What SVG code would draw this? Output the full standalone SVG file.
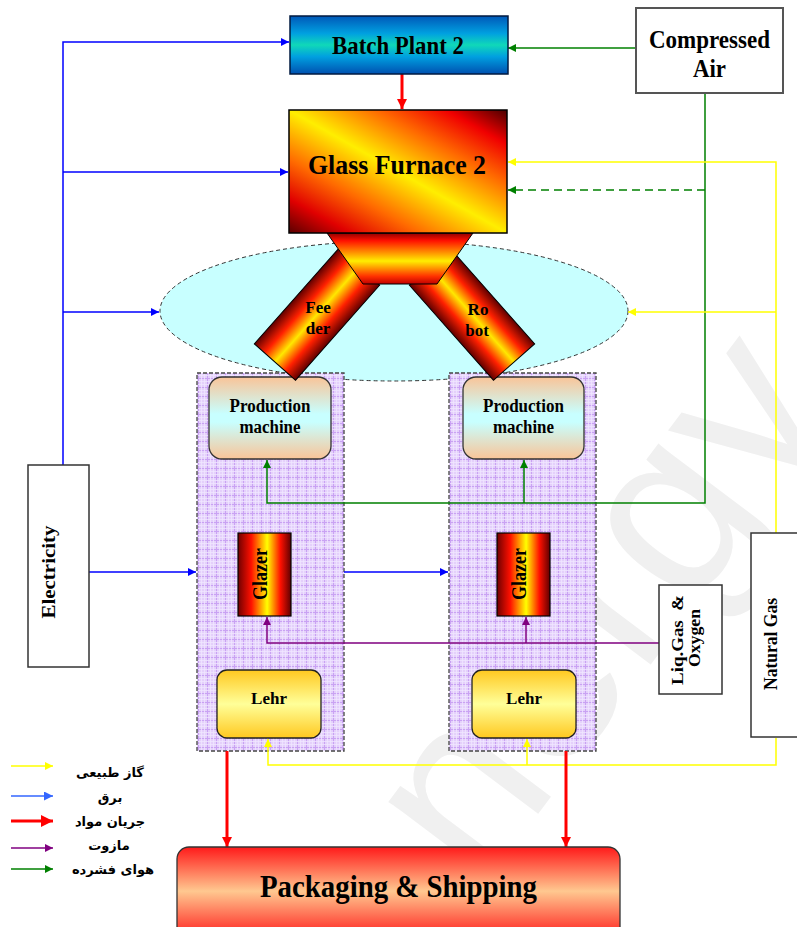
<svg xmlns="http://www.w3.org/2000/svg" width="797" height="927" viewBox="0 0 797 927">
  <defs>
    <style>
      .lbl{font-family:"Liberation Serif","Times New Roman",serif;font-weight:bold;fill:#000;text-anchor:middle}
      .fa{font-family:"DejaVu Sans","Noto Sans",sans-serif;font-weight:bold;font-size:13px;fill:#000;text-anchor:middle}
      .c{fill:none;stroke-width:1.5}
      .blue{stroke:#0000ff}
      .green{stroke:#008000}
      .yellow{stroke:#ffff00}
      .purple{stroke:#800080}
      .red{stroke:#ff0000;stroke-width:3}
      .box{fill:#fff;stroke:#333;stroke-width:1.5}
      .zone{fill:url(#grid);stroke:#444;stroke-width:1.3;stroke-dasharray:4 2}
    </style>

    <!-- fills -->
    <linearGradient id="gBatch" x1="0" y1="0" x2="0" y2="1">
      <stop offset="0" stop-color="#0058b8"/>
      <stop offset="0.3" stop-color="#00a0e0"/>
      <stop offset="0.5" stop-color="#10d8b8"/>
      <stop offset="0.7" stop-color="#00a0e0"/>
      <stop offset="1" stop-color="#0050b0"/>
    </linearGradient>
    <linearGradient id="gFurnace" x1="0" y1="1" x2="1" y2="0">
      <stop offset="0" stop-color="#5a0000"/>
      <stop offset="0.14" stop-color="#e00000"/>
      <stop offset="0.3" stop-color="#ff6a00"/>
      <stop offset="0.5" stop-color="#ffee00"/>
      <stop offset="0.7" stop-color="#ff6a00"/>
      <stop offset="0.86" stop-color="#f00000"/>
      <stop offset="1" stop-color="#4a0000"/>
    </linearGradient>
    <linearGradient id="gThroat" x1="0" y1="0" x2="0" y2="1">
      <stop offset="0" stop-color="#900000"/>
      <stop offset="0.15" stop-color="#ff1000"/>
      <stop offset="0.55" stop-color="#ffee00"/>
      <stop offset="0.85" stop-color="#ff3000"/>
      <stop offset="1" stop-color="#c00000"/>
    </linearGradient>
    <linearGradient id="gBar" x1="0" y1="0" x2="1" y2="0">
      <stop offset="0" stop-color="#600000"/>
      <stop offset="0.25" stop-color="#ff2000"/>
      <stop offset="0.5" stop-color="#ffe800"/>
      <stop offset="0.75" stop-color="#ff2000"/>
      <stop offset="1" stop-color="#600000"/>
    </linearGradient>
    <linearGradient id="gGlazer" x1="0" y1="0" x2="1" y2="0">
      <stop offset="0" stop-color="#700000"/>
      <stop offset="0.25" stop-color="#ff1000"/>
      <stop offset="0.55" stop-color="#ffff00"/>
      <stop offset="0.8" stop-color="#ff1000"/>
      <stop offset="1" stop-color="#600000"/>
    </linearGradient>
    <linearGradient id="gMachine" x1="0" y1="0" x2="0" y2="1">
      <stop offset="0" stop-color="#f9c498"/>
      <stop offset="0.45" stop-color="#c8ffff"/>
      <stop offset="0.55" stop-color="#c8ffff"/>
      <stop offset="1" stop-color="#f9c498"/>
    </linearGradient>
    <linearGradient id="gLehr" x1="0" y1="0" x2="0" y2="1">
      <stop offset="0" stop-color="#ffc820"/>
      <stop offset="0.5" stop-color="#ffff99"/>
      <stop offset="1" stop-color="#ffc820"/>
    </linearGradient>
    <linearGradient id="gPack" x1="0" y1="0" x2="0" y2="1">
      <stop offset="0" stop-color="#ff1a1a"/>
      <stop offset="0.48" stop-color="#ffc890"/>
      <stop offset="1" stop-color="#ff1a1a"/>
    </linearGradient>
    <pattern id="grid" width="9" height="9" patternUnits="userSpaceOnUse">
      <rect width="9" height="9" fill="#e4d0fb"/>
      <path d="M0,0.5H9M0.5,0V9" stroke="#c9a2f3" stroke-width="1"/>
      <path d="M0,3.5H9M0,6.5H9M3.5,0V9M6.5,0V9" stroke="#f0e6ff" stroke-width="0.8"/>
    </pattern>

    <!-- arrowheads -->
    <marker id="aBlue" viewBox="0 0 10 10" refX="10" refY="5" markerWidth="9" markerHeight="8" markerUnits="userSpaceOnUse" orient="auto"><path d="M0,0L10,5L0,10z" fill="#0000ff"/></marker>
    <marker id="aLBlue" viewBox="0 0 10 10" refX="10" refY="5" markerWidth="10" markerHeight="9" markerUnits="userSpaceOnUse" orient="auto"><path d="M0,0L10,5L0,10z" fill="#3366ff"/></marker>
    <marker id="aGreen" viewBox="0 0 10 10" refX="10" refY="5" markerWidth="9" markerHeight="8" markerUnits="userSpaceOnUse" orient="auto"><path d="M0,0L10,5L0,10z" fill="#008000"/></marker>
    <marker id="aYellow" viewBox="0 0 10 10" refX="10" refY="5" markerWidth="9" markerHeight="8" markerUnits="userSpaceOnUse" orient="auto"><path d="M0,0L10,5L0,10z" fill="#ffff00"/></marker>
    <marker id="aPurple" viewBox="0 0 10 10" refX="10" refY="5" markerWidth="9" markerHeight="8" markerUnits="userSpaceOnUse" orient="auto"><path d="M0,0L10,5L0,10z" fill="#800080"/></marker>
    <marker id="aRed" viewBox="0 0 10 10" refX="10" refY="5" markerWidth="11" markerHeight="10" markerUnits="userSpaceOnUse" orient="auto"><path d="M0,0L10,5L0,10z" fill="#ff0000"/></marker>
    <marker id="aRedL" viewBox="0 0 10 10" refX="10" refY="5" markerWidth="12" markerHeight="13" markerUnits="userSpaceOnUse" orient="auto"><path d="M0,0L10,5L0,10z" fill="#ff0000"/></marker>
  </defs>

  <rect width="797" height="927" fill="#fff"/>

  <!-- faint background lettering -->
  <text x="0" y="0" transform="translate(480,891) rotate(-53)" font-family="Liberation Sans, Arial, sans-serif" font-size="240" fill="#f0f0f0">nergy</text>

  <!-- dashed forming area below the furnace -->
  <g id="forming-zone">
    <ellipse cx="394" cy="311" rx="234" ry="70" fill="#c8ffff" stroke="#333" stroke-width="1" stroke-dasharray="4 3"/>
  </g>

  <!-- production lines -->
  <g id="line-1">
    <rect class="zone" x="197" y="373" width="147" height="378"/>
  </g>
  <g id="line-2">
    <rect class="zone" x="449" y="373" width="147" height="378"/>
  </g>

  <!-- connectors -->
  <g id="connectors">
    <!-- electricity -->
    <path class="c blue" d="M63,465V42H289" marker-end="url(#aBlue)"/>
    <path class="c blue" d="M63,172H288" marker-end="url(#aBlue)"/>
    <path class="c blue" d="M63,312H159" marker-end="url(#aBlue)"/>
    <path class="c blue" d="M89,572H196" marker-end="url(#aBlue)"/>
    <path class="c blue" d="M344,572H448" marker-end="url(#aBlue)"/>
    <!-- compressed air -->
    <path class="c green" d="M636,48H508" marker-end="url(#aGreen)"/>
    <path class="c green" d="M705,93V503H267V460" marker-end="url(#aGreen)"/>
    <path class="c green" d="M524,503V460" marker-end="url(#aGreen)"/>
    <path class="c green" d="M705,190H508" stroke-width="2" stroke-dasharray="8 5" marker-end="url(#aGreen)"/>
    <!-- natural gas -->
    <path class="c yellow" d="M776,533V162H508" marker-end="url(#aYellow)"/>
    <path class="c yellow" d="M776,312H628" marker-end="url(#aYellow)"/>
    <path class="c yellow" d="M776,738V765H268V739" marker-end="url(#aYellow)"/>
    <path class="c yellow" d="M527,765V739" marker-end="url(#aYellow)"/>
    <!-- liquid gas & oxygen -->
    <path class="c purple" d="M659,643H267V617" marker-end="url(#aPurple)"/>
    <path class="c purple" d="M526,643V617" marker-end="url(#aPurple)"/>
    <!-- material flow -->
    <path class="c red" d="M402,74V109" marker-end="url(#aRed)"/>
    <path class="c red" d="M227,751V847" marker-end="url(#aRed)"/>
    <path class="c red" d="M566,751V847" marker-end="url(#aRed)"/>
  </g>

  <g id="batch-plant">
    <rect x="290" y="16" width="218" height="58" fill="url(#gBatch)" stroke="#001a40" stroke-width="1.5"/>
    <text class="lbl" x="398" y="54" font-size="25" textLength="132" lengthAdjust="spacingAndGlyphs">Batch Plant 2</text>
  </g>

  <g id="compressed-air">
    <rect x="636" y="8" width="147" height="85" fill="#fff" stroke="#555" stroke-width="2"/>
    <text class="lbl" x="709.5" y="48" font-size="25" textLength="121" lengthAdjust="spacingAndGlyphs">Compressed</text>
    <text class="lbl" x="709.5" y="77" font-size="25" textLength="33" lengthAdjust="spacingAndGlyphs">Air</text>
  </g>

  <g id="machine-1">
    <rect x="209" y="377" width="122" height="82" rx="13" fill="url(#gMachine)" stroke="#333" stroke-width="1.3"/>
    <text class="lbl" x="270" y="412" font-size="18" textLength="81" lengthAdjust="spacingAndGlyphs">Production</text>
    <text class="lbl" x="270" y="433" font-size="18" textLength="61" lengthAdjust="spacingAndGlyphs">machine</text>
  </g>
  <g id="machine-2">
    <rect x="463" y="377" width="121" height="82" rx="13" fill="url(#gMachine)" stroke="#333" stroke-width="1.3"/>
    <text class="lbl" x="523.5" y="412" font-size="18" textLength="81" lengthAdjust="spacingAndGlyphs">Production</text>
    <text class="lbl" x="523.5" y="433" font-size="18" textLength="61" lengthAdjust="spacingAndGlyphs">machine</text>
  </g>

  <g id="feeder">
    <rect x="-27.5" y="-63.5" width="55" height="127" transform="translate(317,314.5) rotate(41.5)" fill="url(#gBar)" stroke="#000" stroke-width="1"/>
    <text class="lbl" x="318" y="313" font-size="17">Fee</text>
    <text class="lbl" x="318" y="334" font-size="17">der</text>
  </g>
  <g id="robot">
    <rect x="-27.5" y="-63.5" width="55" height="127" transform="translate(472,314.5) rotate(-41.5)" fill="url(#gBar)" stroke="#000" stroke-width="1"/>
    <text class="lbl" x="478" y="315" font-size="17">Ro</text>
    <text class="lbl" x="477" y="336" font-size="17">bot</text>
  </g>

  <g id="glass-furnace">
    <polygon points="327,233 473,233 437,284 363,284" fill="url(#gThroat)" stroke="#000" stroke-width="1"/>
    <rect x="289" y="110" width="218" height="123" fill="url(#gFurnace)" stroke="#000" stroke-width="1.5"/>
    <text class="lbl" x="397" y="174" font-size="28" textLength="178" lengthAdjust="spacingAndGlyphs">Glass Furnace 2</text>
  </g>

  <g id="glazer-1">
    <rect x="238" y="533" width="53" height="83" fill="url(#gGlazer)" stroke="#000" stroke-width="1.2"/>
    <text class="lbl" transform="translate(267,574) rotate(-90)" font-size="20" textLength="52" lengthAdjust="spacingAndGlyphs">Glazer</text>
  </g>
  <g id="glazer-2">
    <rect x="497" y="533" width="53" height="83" fill="url(#gGlazer)" stroke="#000" stroke-width="1.2"/>
    <text class="lbl" transform="translate(526,574) rotate(-90)" font-size="20" textLength="52" lengthAdjust="spacingAndGlyphs">Glazer</text>
  </g>

  <g id="lehr-1">
    <rect x="217" y="670" width="104" height="68" rx="10" fill="url(#gLehr)" stroke="#222" stroke-width="1.3"/>
    <text class="lbl" x="269" y="704" font-size="17">Lehr</text>
  </g>
  <g id="lehr-2">
    <rect x="472" y="670" width="104" height="68" rx="10" fill="url(#gLehr)" stroke="#222" stroke-width="1.3"/>
    <text class="lbl" x="524" y="704" font-size="17">Lehr</text>
  </g>

  <g id="electricity">
    <rect class="box" x="28" y="465" width="61" height="202"/>
    <text class="lbl" transform="translate(55,572) rotate(-90)" font-size="19" textLength="93" lengthAdjust="spacingAndGlyphs">Electricity</text>
  </g>

  <g id="liq-gas-oxygen">
    <rect class="box" x="659" y="585" width="63" height="109" stroke-width="2"/>
    <text class="lbl" transform="translate(683,640) rotate(-90)" font-size="17" style="white-space:pre" textLength="90" lengthAdjust="spacingAndGlyphs">Liq.Gas  &amp;</text>
    <text class="lbl" transform="translate(700,638) rotate(-90)" font-size="17" textLength="58" lengthAdjust="spacingAndGlyphs">Oxygen</text>
  </g>

  <g id="natural-gas">
    <rect class="box" x="751" y="533" width="50" height="204"/>
    <text class="lbl" transform="translate(777,644) rotate(-90)" font-size="18" textLength="92" lengthAdjust="spacingAndGlyphs">Natural Gas</text>
  </g>

  <g id="packaging">
    <rect x="177" y="847" width="443" height="92" rx="12" fill="url(#gPack)" stroke="#333" stroke-width="1.3"/>
    <text class="lbl" x="398.5" y="897" font-size="31" textLength="277" lengthAdjust="spacingAndGlyphs">Packaging &amp; Shipping</text>
  </g>

  <!-- legend -->
  <g id="legend">
    <path class="c yellow" d="M11,766H53" marker-end="url(#aYellow)"/>
    <path class="c" stroke="#3366ff" d="M11,796H53" marker-end="url(#aLBlue)"/>
    <path class="c red" d="M11,821H53" stroke-width="4" marker-end="url(#aRedL)"/>
    <path class="c purple" d="M11,848H53" marker-end="url(#aPurple)"/>
    <path class="c green" d="M11,869H53" marker-end="url(#aGreen)"/>
    <text class="fa" x="110" y="777">گاز طبیعی</text>
    <text class="fa" x="110" y="802">برق</text>
    <text class="fa" x="110" y="826">جریان مواد</text>
    <text class="fa" x="109" y="850">مازوت</text>
    <text class="fa" x="113" y="874">هوای فشرده</text>
  </g>
</svg>
